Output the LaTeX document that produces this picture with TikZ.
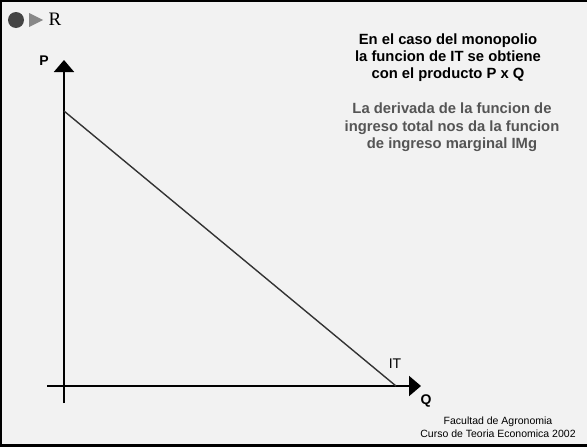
\documentclass[tikz,border=0pt]{standalone}
\usepackage{fontspec}
\setmainfont{Liberation Sans}
\newfontfamily\serifR{Liberation Serif}
\usetikzlibrary{arrows.meta,positioning}
\definecolor{bgray}{HTML}{F2F2F2}
\definecolor{txtgray}{HTML}{555555}
\definecolor{markgray}{HTML}{555555}

\begin{document}
\begin{tikzpicture}[
  x=1pt, y=-1pt,
  >=Latex,
  every node/.style={inner sep=0pt},
  axis/.style={-{Triangle[width=20pt,length=12pt]}, line width=2pt},
  curve/.style={line width=1.4pt, draw=black!80},
  headtxt/.style={font=\bfseries\fontsize{14.8}{17}\selectfont, align=center},
  subtxt/.style={font=\bfseries\fontsize{14.8}{17.5}\selectfont, align=center, text=txtgray},
  foot/.style={font=\fontsize{10.5}{13}\selectfont, align=center},
  axlbl/.style={font=\bfseries\fontsize{14}{14}\selectfont},
]

% --- Frame -----------------------------------------------------
\fill[bgray] (0,0) rectangle (587,447);
\useasboundingbox (0,0) rectangle (587,447);
\draw[line width=2.5pt] (587,1) -- (1,1) -- (1,445.5) -- (587,445.5);

% --- Header marks ----------------------------------------------
\fill[markgray!80!black] (16,20) circle (8);
\fill[markgray!70] (29,13) -- (43,20) -- (29,27) -- cycle;
\node[font=\serifR\fontsize{19}{19}\selectfont] (R) at (55,19.5) {R};

% --- Axes ------------------------------------------------------
\coordinate (ybot) at (64,403);
\coordinate (ytop) at (64,60);
\coordinate (xlft) at (47,386);
\coordinate (xrgt) at (421,386);
\draw[axis] (ybot) -- (ytop);
\draw[axis] (xlft) -- (xrgt);
\node[axlbl] (P) at (44,61) {P};
\node[axlbl] (Q) at (426,401) {Q};

% --- Total revenue line ----------------------------------------
\coordinate (itP) at (64,111);
\coordinate (itQ) at (396,386);
\draw[curve] (itP) -- (itQ);
\node[font=\fontsize{14}{14}\selectfont] (IT) at (395,364) {IT};

% --- Texts -----------------------------------------------------
\node[headtxt] (head) at (448,58) {En el caso del monopolio\\la funcion de IT se obtiene\\con el producto P x Q};
\node[subtxt] (sub) at (452,127.5) {La derivada de la funcion de\\ingreso total nos da la funcion\\de ingreso marginal IMg};
\node[foot] (pie) at (498,427.5) {Facultad de Agronomia\\Curso de Teoria Economica 2002};

\end{tikzpicture}
\end{document}
